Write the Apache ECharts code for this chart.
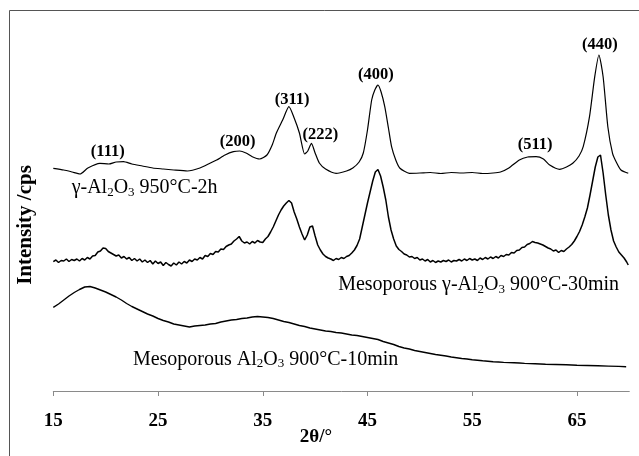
<!DOCTYPE html>
<html>
<head>
<meta charset="utf-8">
<script src="https://cdn.jsdelivr.net/npm/echarts@6/dist/echarts.min.js"></script>
<style>html,body{margin:0;padding:0;background:#fff}#c{width:639px;height:456px}</style>
</head>
<body>
<div id="c"></div>
<script>
// x-axis tick labels
var xTicks = [15, 25, 35, 45, 55, 65];

// γ-Al2O3 950°C-2h
var topX = [15.0,16.0,16.8,17.55,18.3,19.45,20.3,21.0,21.7,22.5,23.5,24.5,25.5,26.5,27.8,29.0,30.0,30.6,31.4,32.2,32.8,33.4,34.0,34.7,35.4,35.9,36.3,36.9,37.5,38.0,38.5,39.0,39.3,39.65,40.0,40.4,41.0,42.0,43.0,43.6,44.2,44.6,45.0,45.4,45.7,46.0,46.3,46.65,47.0,47.3,47.7,48.1,49.0,50.0,51.0,52.0,53.0,54.0,55.0,56.0,57.0,57.7,58.5,59.5,60.3,61.1,61.8,62.4,63.35,64.0,64.6,65.2,65.6,66.2,66.7,67.1,67.5,67.95,68.4,68.8,69.2,69.9];
var topY = [2227,2210,2190,2170,2230,2277,2270,2290,2293,2270,2250,2230,2220,2210,2200,2230,2280,2310,2360,2393,2400,2380,2343,2320,2360,2460,2580,2710,2843,2730,2580,2370,2400,2477,2380,2280,2220,2177,2200,2230,2290,2380,2610,2910,3010,3060,2990,2843,2630,2443,2310,2227,2177,2180,2185,2175,2185,2180,2185,2175,2180,2190,2230,2310,2340,2343,2320,2260,2217,2240,2277,2350,2443,2743,3143,3360,3143,2643,2377,2280,2210,2177];

// Mesoporous γ-Al2O3 900°C-30min
var midX = [15.00,15.25,15.50,15.75,16.00,16.25,16.50,16.75,17.00,17.25,17.50,17.75,18.00,18.25,18.50,18.75,19.00,19.25,19.50,19.75,20.00,20.25,20.50,20.75,21.00,21.25,21.50,21.75,22.00,22.25,22.50,22.75,23.00,23.25,23.50,23.75,24.00,24.25,24.50,24.75,25.00,25.25,25.50,25.75,26.00,26.25,26.50,26.75,27.00,27.25,27.50,27.75,28.00,28.25,28.50,28.75,29.00,29.25,29.50,29.75,30.00,30.25,30.50,30.75,31.00,31.25,31.50,31.75,32.00,32.25,32.50,32.75,33.00,33.25,33.50,33.75,34.00,34.25,34.50,34.75,35.00,35.25,35.50,35.75,36.00,36.25,36.50,36.75,37.00,37.25,37.50,37.75,38.00,38.25,38.50,38.75,39.00,39.25,39.50,39.75,40.00,40.25,40.50,40.75,41.00,41.25,41.50,41.75,42.00,42.25,42.50,42.75,43.00,43.25,43.50,43.75,44.00,44.25,44.50,44.75,45.00,45.25,45.50,45.75,46.00,46.25,46.50,46.75,47.00,47.25,47.50,47.75,48.00,48.25,48.50,48.75,49.00,49.25,49.50,49.75,50.00,50.25,50.50,50.75,51.00,51.25,51.50,51.75,52.00,52.25,52.50,52.75,53.00,53.25,53.50,53.75,54.00,54.25,54.50,54.75,55.00,55.25,55.50,55.75,56.00,56.25,56.50,56.75,57.00,57.25,57.50,57.75,58.00,58.25,58.50,58.75,59.00,59.25,59.50,59.75,60.00,60.25,60.50,60.75,61.00,61.25,61.50,61.75,62.00,62.25,62.50,62.75,63.00,63.25,63.50,63.75,64.00,64.25,64.50,64.75,65.00,65.25,65.50,65.75,66.00,66.25,66.50,66.75,67.00,67.25,67.50,67.75,68.00,68.25,68.50,68.75,69.00,69.25,69.50,69.75,69.90];
var midY = [1293,1310,1285,1305,1300,1320,1295,1315,1305,1320,1300,1325,1310,1335,1320,1350,1355,1390,1400,1430,1425,1395,1380,1365,1350,1360,1330,1345,1320,1335,1305,1325,1300,1320,1290,1310,1285,1305,1270,1300,1275,1290,1255,1285,1265,1250,1280,1260,1290,1270,1295,1280,1310,1295,1320,1310,1335,1320,1355,1345,1375,1365,1395,1390,1420,1415,1445,1460,1470,1500,1520,1545,1500,1480,1490,1470,1495,1480,1505,1490,1485,1520,1545,1590,1640,1700,1760,1810,1850,1880,1905,1880,1790,1720,1640,1570,1510,1560,1640,1650,1550,1460,1410,1370,1345,1330,1320,1305,1325,1315,1335,1325,1345,1355,1380,1410,1455,1520,1640,1760,1880,1990,2100,2190,2215,2150,2040,1910,1740,1610,1520,1450,1415,1395,1370,1360,1340,1345,1325,1335,1310,1320,1300,1315,1290,1305,1285,1300,1290,1305,1295,1310,1290,1305,1300,1315,1300,1320,1305,1325,1310,1320,1305,1330,1315,1335,1320,1340,1325,1345,1330,1355,1345,1365,1360,1385,1380,1405,1410,1435,1440,1465,1475,1495,1485,1480,1470,1460,1445,1430,1420,1400,1410,1385,1405,1395,1420,1440,1465,1500,1545,1595,1660,1740,1830,1960,2100,2240,2340,2360,2180,1960,1760,1610,1500,1440,1390,1360,1330,1290,1260];

// Mesoporous Al2O3 900°C-10min
var botX = [15.0,15.5,16.0,16.5,17.0,17.5,18.0,18.5,19.0,19.5,20.0,20.5,21.0,21.5,22.0,22.5,23.0,23.5,24.0,24.5,25.0,25.5,26.0,26.5,27.0,27.5,28.0,28.5,29.0,29.5,30.0,30.5,31.0,31.5,32.0,32.5,33.0,33.5,34.0,34.5,35.0,35.5,36.0,36.5,37.0,37.5,38.0,38.5,39.0,39.5,40.0,40.5,41.0,41.5,42.0,42.5,43.0,43.5,44.0,44.5,45.0,45.5,46.0,46.5,47.0,47.5,48.0,48.5,49.0,49.5,50.0,50.5,51.0,51.5,52.0,52.5,53.0,53.5,54.0,54.5,55.0,55.5,56.0,56.5,57.0,57.5,58.0,58.5,59.0,59.5,60.0,61.0,62.0,63.0,64.0,65.0,66.0,67.0,68.0,69.0,69.7];
var botY = [837,870,910,950,985,1015,1040,1045,1030,1010,990,965,940,910,875,845,820,795,770,750,725,705,690,670,660,650,640,650,655,660,670,675,690,700,710,715,725,730,740,745,740,735,725,710,695,685,670,655,645,630,620,610,600,595,585,580,570,560,555,545,535,525,515,495,480,465,445,430,420,405,395,385,375,365,358,350,340,333,325,320,312,308,302,298,292,290,286,284,282,280,276,272,268,265,262,258,255,252,249,246,243];

// peak indices and sample names
var peakNames = ['(111)','(200)','(311)','(222)','(400)','(511)','(440)'];
var sampleNames = [
  '{n|γ-Al}{s|2}{n|O}{s|3}{n| 950°C-2h}',
  '{n|Mesoporous γ-Al}{s|2}{n|O}{s|3}{n| 900°C-30min}',
  '{n|Mesoporous Al}{s|2}{n|O}{s|3}{n| 900°C-10min}'
];

function pairs(xs, ys) { return xs.map(function (x, i) { return [x, ys[i]]; }); }

// annotation anchor points (data coordinates)
var peakAt = [[20.2,2390],[32.6,2493],[37.8,2910],[40.5,2560],[45.8,3160],[61.0,2460],[67.2,3460]];
var sampleAt = [[16.75,2033],[42.2,1060],[22.6,317]];

var serif = 'Liberation Serif, Times New Roman, serif';

var chart = echarts.init(document.getElementById('c'), null, { renderer: 'canvas' });
chart.setOption({
  animation: false,
  backgroundColor: '#fff',
  grid: { left: 53.3, right: 9.7, top: 31, bottom: 65 },
  xAxis: {
    type: 'value', min: 15, max: 70,
    axisLine: { lineStyle: { color: '#8a8a8a', width: 1 } },
    axisTick: { customValues: xTicks, length: 5, lineStyle: { color: '#8a8a8a' } },
    axisLabel: { customValues: xTicks, margin: 21, fontFamily: serif, fontWeight: 'bold', fontSize: 19, color: '#000' },
    splitLine: { show: false }
  },
  yAxis: { type: 'value', min: 0, max: 3600, show: false },
  series: [
    { type: 'line', data: pairs(topX, topY), showSymbol: false, lineStyle: { color: '#000', width: 1.2 }, smooth: 0.2 },
    { type: 'line', data: pairs(midX, midY), showSymbol: false, lineStyle: { color: '#000', width: 1.5 } },
    { type: 'line', data: pairs(botX, botY), showSymbol: false, lineStyle: { color: '#000', width: 1.4 } },
    {
      type: 'scatter', symbolSize: 0, silent: true, itemStyle: { opacity: 1 },
      data: peakAt.map(function (p, i) { return { value: p, name: peakNames[i] }; }),
      label: { show: true, position: 'inside', formatter: '{b}', opacity: 1, fontFamily: serif, fontWeight: 'bold', fontSize: 16.5, color: '#000', textBorderWidth: 0 }
    },
    {
      type: 'scatter', symbolSize: 0, silent: true, itemStyle: { opacity: 1 },
      data: sampleAt.map(function (p, i) { return { value: p, name: sampleNames[i] }; }),
      label: {
        show: true, position: 'right', distance: 0, formatter: '{b}', opacity: 1,
        rich: {
          n: { fontFamily: serif, fontSize: 20, color: '#000', lineHeight: 22 },
          s: { fontFamily: serif, fontSize: 13, color: '#000', lineHeight: 12, verticalAlign: 'bottom' }
        }
      }
    }
  ],
  graphic: [
    { type: 'rect', shape: { x: 9.5, y: 10.5, width: 700, height: 500 }, style: { fill: 'none', stroke: '#555', lineWidth: 1 }, silent: true },
    { type: 'text', x: 26, y: 225, rotation: Math.PI / 2, style: { text: 'Intensity /cps', font: 'bold 21px ' + serif, fill: '#000', align: 'center', verticalAlign: 'middle' } },
    { type: 'text', x: 316, y: 437, style: { text: '2θ/°', font: 'bold 19px ' + serif, fill: '#000', align: 'center', verticalAlign: 'middle' } }
  ]
});
</script>
</body>
</html>
